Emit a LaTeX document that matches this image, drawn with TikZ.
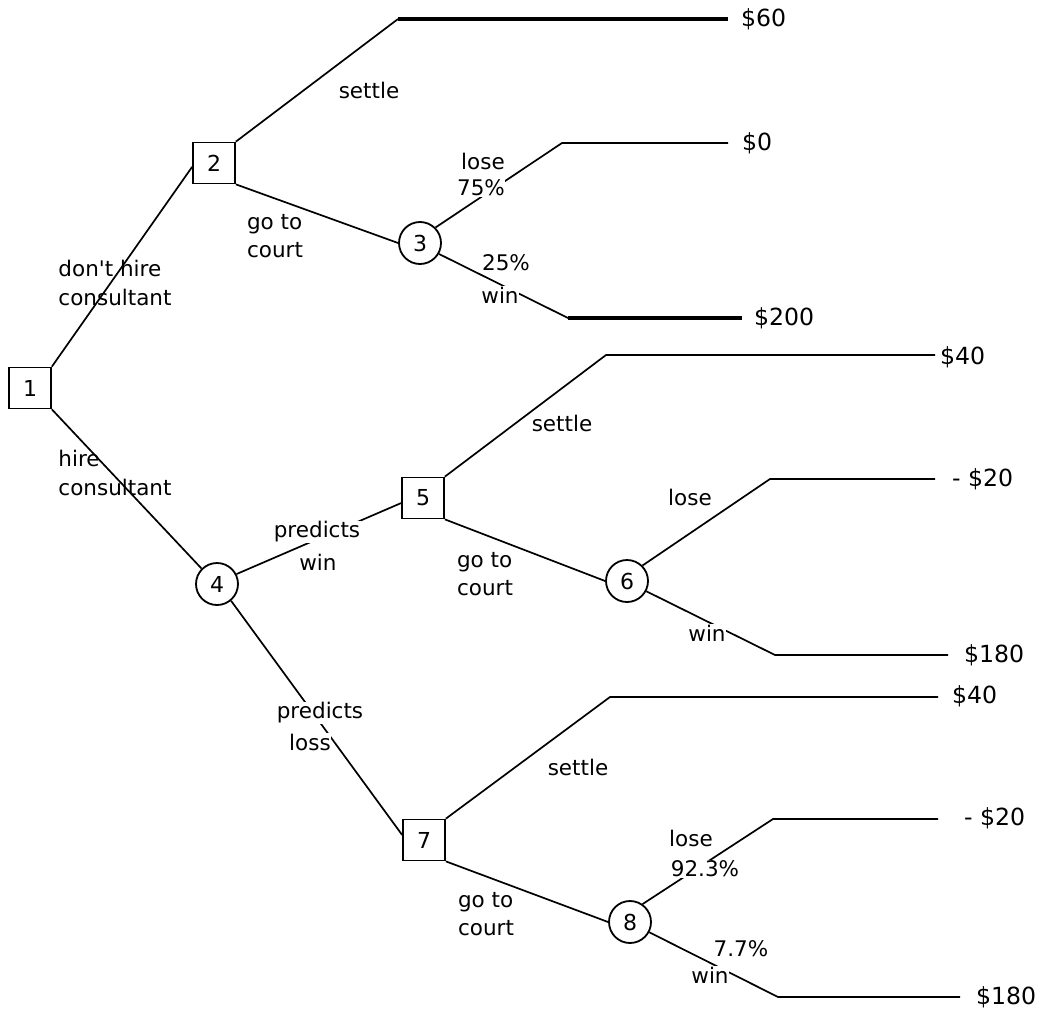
\documentclass[tikz,border=0pt]{standalone}
\usepackage{fontspec}
\newfontfamily\lblfont{DejaVu Sans}
\begin{document}
\begin{tikzpicture}[x=1pt,y=-1pt,
  dec/.style={draw,line width=1.7pt,minimum width=42pt,minimum height=41pt,inner sep=0pt,font=\lblfont\fontsize{22}{22}\selectfont},
  chance/.style={draw,circle,line width=1.8pt,minimum size=42pt,inner sep=0pt,font=\lblfont\fontsize{22}{22}\selectfont},
  lbl/.style={font=\lblfont\fontsize{21.5}{28.5}\selectfont,inner sep=0.5pt,align=left},
  lblw/.style={lbl,fill=white},
  pay/.style={font=\lblfont\fontsize{23.6}{28}\selectfont,anchor=west,inner sep=0pt},
  conn/.style={line width=1.7pt},
  connthick/.style={line width=3.5pt}
]
\useasboundingbox (0,0) rectangle (1038,1009);

% decision and chance nodes
\node[dec] (n1) at (30,388) {1};
\node[dec] (n2) at (214,163) {2};
\node[chance] (n3) at (420,243) {3};
\node[chance] (n4) at (217,584) {4};
\node[dec] (n5) at (423,498) {5};
\node[chance] (n6) at (627,581) {6};
\node[dec] (n7) at (424,840) {7};
\node[chance] (n8) at (630,922) {8};

% corners and ends of payoff lines
\coordinate (c2s) at (398,19);  \coordinate (e2s) at (728,19);
\coordinate (c3l) at (562,143); \coordinate (e3l) at (728,143);
\coordinate (c3w) at (568,318); \coordinate (e3w) at (742,318);
\coordinate (c5s) at (606,355); \coordinate (e5s) at (935,355);
\coordinate (c6l) at (770,479); \coordinate (e6l) at (935,479);
\coordinate (c6w) at (775,655); \coordinate (e6w) at (948,655);
\coordinate (c7s) at (610,697); \coordinate (e7s) at (938,697);
\coordinate (c8l) at (773,819); \coordinate (e8l) at (938,819);
\coordinate (c8w) at (778,997); \coordinate (e8w) at (960,997);

% connectors
\draw[conn] (n1.north east) -- (n2.190);
\draw[conn] (n1.south east) -- (n4.north west);
\draw[conn] (n2.north east) -- (c2s);
\draw[connthick] (c2s) -- (e2s);
\draw[conn] (n2.south east) -- (n3.west);
\draw[conn] (n3.north east) -- (c3l) -- (e3l);
\draw[conn] (n3.-30) -- (c3w);
\draw[connthick] (c3w) -- (e3w);
\draw[conn] (n4.27) -- (n5.193);
\draw[conn] (n4.-50) -- (n7.167);
\draw[conn] (n5.north east) -- (c5s) -- (e5s);
\draw[conn] (n5.south east) -- (n6.west);
\draw[conn] (n6.north east) -- (c6l) -- (e6l);
\draw[conn] (n6.-28) -- (c6w) -- (e6w);
\draw[conn] (n7.north east) -- (c7s) -- (e7s);
\draw[conn] (n7.south east) -- (n8.west);
\draw[conn] (n8.55) -- (c8l) -- (e8l);
\draw[conn] (n8.-28) -- (c8w) -- (e8w);

% branch labels
\node[lbl] (l12) at (115,283) {don't hire\\consultant};
\node[lbl] (l14) at (115,473) {hire\\consultant};
\node[lbl] (l2s) at (369,90) {settle};
\node[lbl] (l23) at (275,236) {go to\\court};
\node[lbl] (l3l) at (483,161) {lose};
\node[lblw] (l3p) at (481,188) {75\%};
\node[lblw] (l3q) at (506,263) {25\%};
\node[lblw] (l3w) at (500,295) {win};
\node[lblw] (l45a) at (317,532) {predicts};
\node[lblw] (l45b) at (318,562) {win};
\node[lblw] (l47a) at (320,713) {predicts};
\node[lblw] (l47b) at (310,742) {loss};
\node[lbl] (l5s) at (562,423) {settle};
\node[lbl] (l56) at (485,574) {go to\\court};
\node[lbl] (l6l) at (690,497) {lose};
\node[lblw] (l6w) at (707,633) {win};
\node[lbl] (l7s) at (578,767) {settle};
\node[lbl] (l78) at (486,914) {go to\\court};
\node[lbl] (l8l) at (691,838) {lose};
\node[lblw] (l8p) at (705,869) {92.3\%};
\node[lbl] (l8q) at (741,949) {7.7\%};
\node[lblw] (l8w) at (710,975) {win};

% payoffs
\node[pay] (p60) at (741,19) {\$60};
\node[pay] (p0) at (742,143) {\$0};
\node[pay] (p200) at (754,318) {\$200};
\node[pay] (p40a) at (940,357) {\$40};
\node[pay] (p20a) at (952,479) {- \$20};
\node[pay] (p180a) at (964,655) {\$180};
\node[pay] (p40b) at (952,696) {\$40};
\node[pay] (p20b) at (964,818) {- \$20};
\node[pay] (p180b) at (976,997) {\$180};
\end{tikzpicture}
\end{document}
